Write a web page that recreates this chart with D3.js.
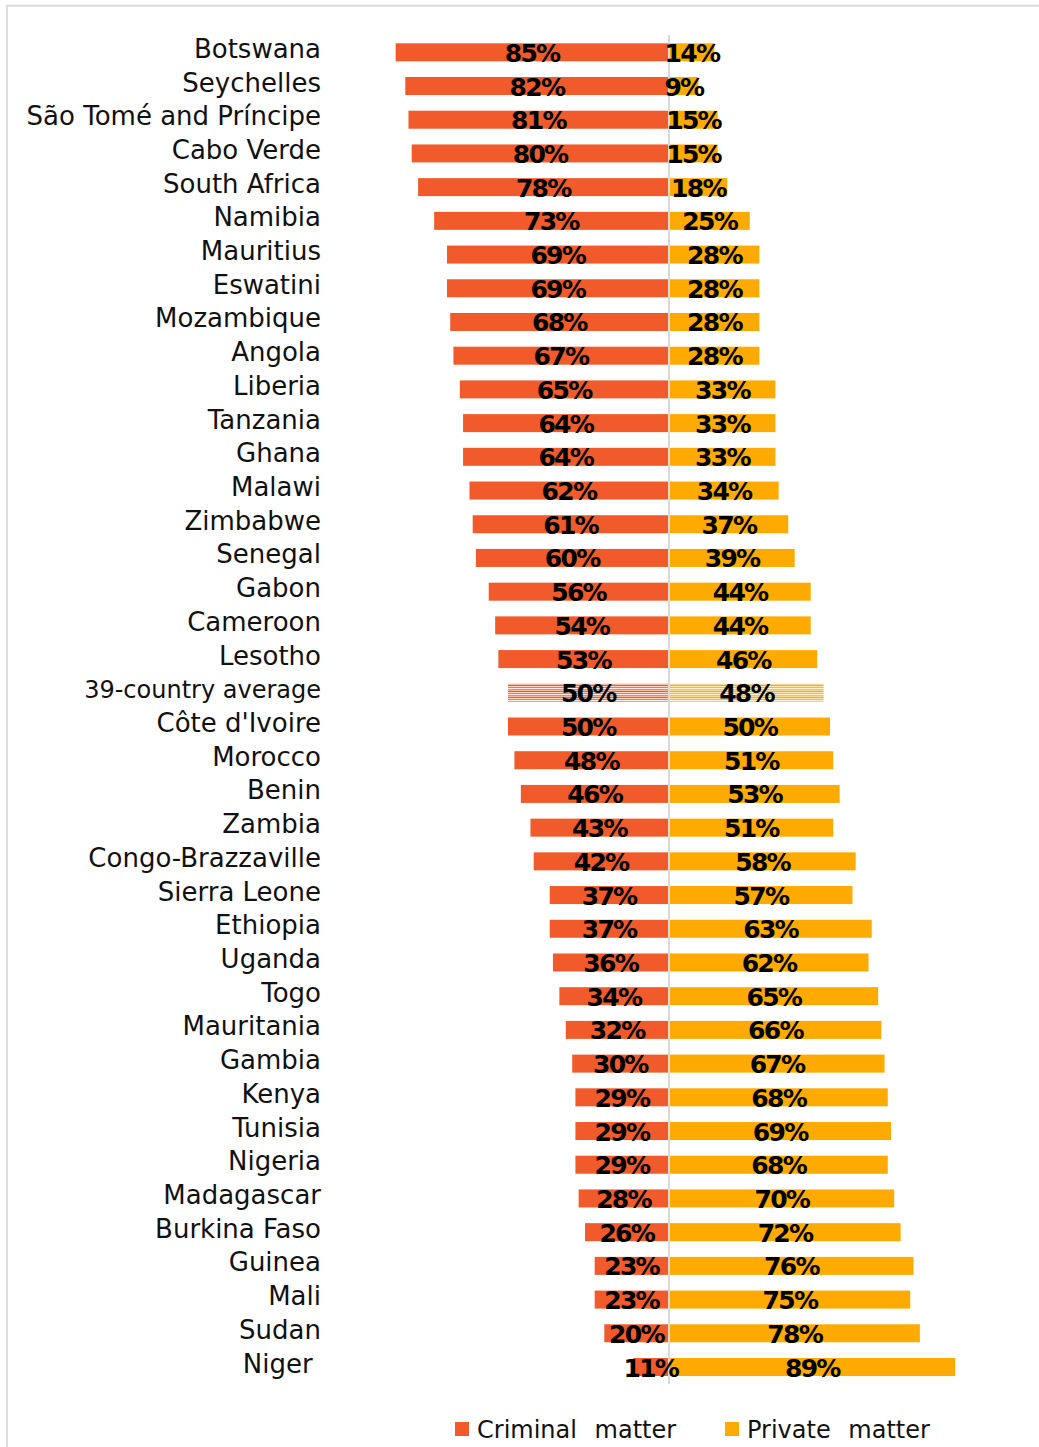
<!DOCTYPE html>
<html>
<head>
<meta charset="utf-8">
<script src="https://cdn.jsdelivr.net/npm/d3@7"></script>
<style>
  html, body { margin: 0; padding: 0; background: #fff; }
  svg { display: block; }
</style>
</head>
<body>
<script>
const countries = ["Botswana","Seychelles","São Tomé and Príncipe","Cabo Verde","South Africa","Namibia","Mauritius","Eswatini","Mozambique","Angola","Liberia","Tanzania","Ghana","Malawi","Zimbabwe","Senegal","Gabon","Cameroon","Lesotho","39-country average","Côte d'Ivoire","Morocco","Benin","Zambia","Congo-Brazzaville","Sierra Leone","Ethiopia","Uganda","Togo","Mauritania","Gambia","Kenya","Tunisia","Nigeria","Madagascar","Burkina Faso","Guinea","Mali","Sudan","Niger\u00a0"];
const criminal = [85,82,81,80,78,73,69,69,68,67,65,64,64,62,61,60,56,54,53,50,50,48,46,43,42,37,37,36,34,32,30,29,29,29,28,26,23,23,20,11];
const privateMatter = [14,9,15,15,18,25,28,28,28,28,33,33,33,34,37,39,44,44,46,48,50,51,53,51,58,57,63,62,65,66,67,68,69,68,70,72,76,75,78,89];
const seriesNames = ["Criminal matter","Private matter"];
const averageLabel = "39-country average";

const W = 1039, H = 1447;
const colCrim = "#F15A2B", colPriv = "#FFAA00";

const svg = d3.select("body").append("svg").attr("width", W).attr("height", H);

// patterns for the average row
const defs = svg.append("defs");
function stripe(id, cols) {
  const p = defs.append("pattern").attr("id", id).attr("patternUnits", "userSpaceOnUse")
    .attr("width", 4).attr("height", cols.length).attr("y", 683);
  cols.forEach((c, i) => p.append("rect").attr("x", 0).attr("y", i).attr("width", 4).attr("height", 1).attr("fill", c));
}
stripe("stCrim", ["#F5875F","#FBB79C","#F15A2B","#FDD5C5","#F4784F","#FEE8DF"]);
stripe("stPriv", ["#FFC040","#FFD98A","#FFAA00","#FFE8B8","#FFB828","#FFF2D6"]);

// border
svg.append("rect").attr("x", 7).attr("y", 5.7).attr("width", 1200).attr("height", 1600)
  .attr("fill", "none").attr("stroke", "#DCDCDC").attr("stroke-width", 2);

const y = d3.scalePoint().domain(countries).range([52.3, 1367]);
const xL = d3.scaleLinear().domain([0, 100]).range([668.5, 668.5 - 321]);
const xR = d3.scaleLinear().domain([0, 100]).range([669.5, 669.5 + 321]);
const bh = 18;

const data = countries.map((c, i) => ({c, crim: criminal[i], priv: privateMatter[i], avg: c === averageLabel}));

// country labels
svg.append("g").selectAll("text").data(data).join("text")
  .attr("x", 321).attr("y", d => y(d.c) + 5.5)
  .attr("text-anchor", "end")
  .attr("font-family", "DejaVu Sans, Verdana, sans-serif")
  .attr("font-size", d => d.avg ? 24 : 26)
  .attr("fill", "#111")
  .text(d => d.c);

// bars
svg.append("g").selectAll("rect").data(data).join("rect")
  .attr("x", d => xL(d.crim)).attr("y", d => y(d.c) - bh / 2)
  .attr("width", d => xL(0) - xL(d.crim)).attr("height", bh)
  .attr("fill", d => d.avg ? "url(#stCrim)" : colCrim);
svg.append("g").selectAll("rect").data(data).join("rect")
  .attr("x", d => xR(0)).attr("y", d => y(d.c) - bh / 2)
  .attr("width", d => xR(d.priv) - xR(0)).attr("height", bh)
  .attr("fill", d => d.avg ? "url(#stPriv)" : colPriv);

// center line
svg.append("line").attr("x1", 669).attr("x2", 669).attr("y1", 35).attr("y2", 1384)
  .attr("stroke", "#D9D9D9").attr("stroke-width", 2);

// value labels
function valLabels(xs, key) {
  svg.append("g").selectAll("text").data(data).join("text")
    .attr("x", d => (xs(0) + xs(d[key])) / 2)
    .attr("y", d => y(d.c) + 9.5)
    .attr("text-anchor", "middle")
    .attr("font-family", "DejaVu Sans, Verdana, sans-serif").attr("font-size", 25)
    .attr("font-weight", "bold").attr("letter-spacing", -1.7)
    .attr("fill", "#000")
    .text(d => d[key] + "%");
}
valLabels(xL, "crim");
valLabels(xR, "priv");

// legend
const leg = svg.append("g");
const legItems = [{name: seriesNames[0], col: colCrim, x: 455}, {name: seriesNames[1], col: colPriv, x: 725}];
legItems.forEach(it => {
  leg.append("rect").attr("x", it.x).attr("y", 1422).attr("width", 14).attr("height", 14).attr("fill", it.col);
  leg.append("text").attr("x", it.x + 22).attr("y", 1438)
    .attr("font-family", "DejaVu Sans, Verdana, sans-serif").attr("font-size", 24)
    .attr("word-spacing", 10).attr("fill", "#111").text(it.name);
});
</script>
</body>
</html>
